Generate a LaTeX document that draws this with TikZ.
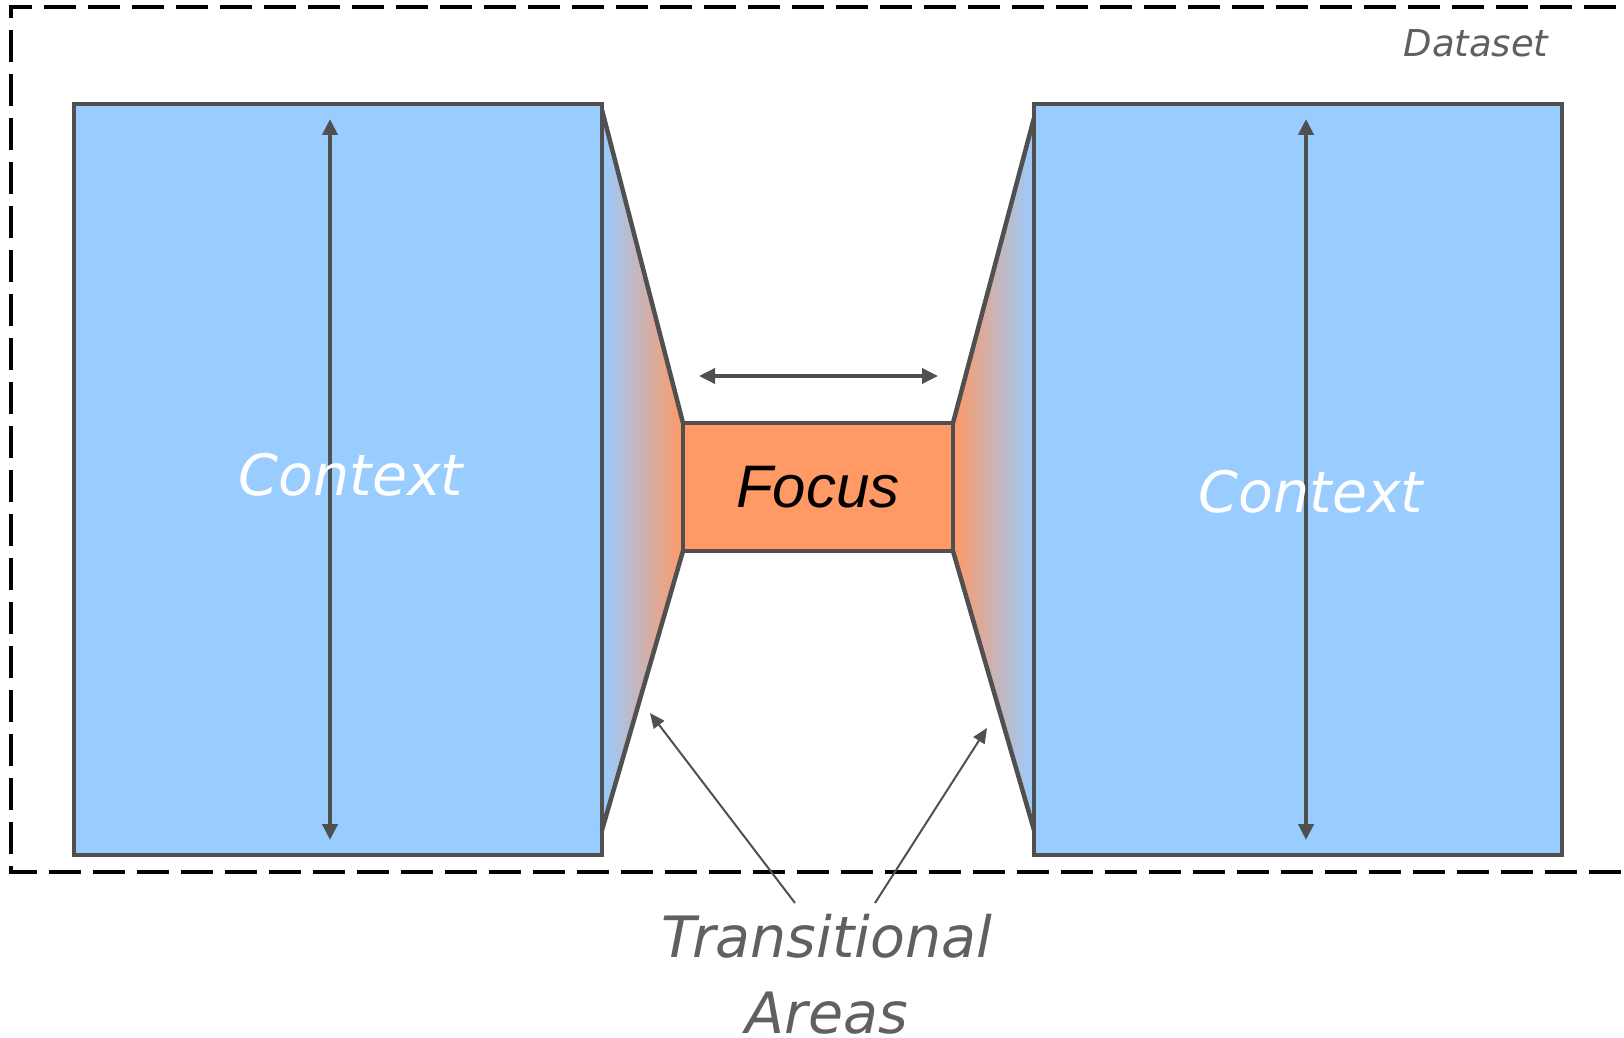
\documentclass[tikz,border=0pt]{standalone}
\usepackage{fontspec}
\setmainfont{DejaVu Sans}
\newfontfamily\focusfont{Liberation Sans}
\usetikzlibrary{arrows.meta}
\definecolor{ctxblue}{HTML}{99CCFF}
\definecolor{focusorange}{HTML}{FF9966}
\definecolor{edge}{HTML}{505050}
\definecolor{labelgrey}{HTML}{606060}

\begin{document}
\begin{tikzpicture}[x=1pt,y=-1pt,
  box/.style={draw=edge, line width=4.5pt},
  ctxbox/.style={box, fill=ctxblue, inner sep=0pt, outer sep=0pt, anchor=north west},
  focusbox/.style={box, fill=focusorange, inner sep=0pt, outer sep=0pt,
    minimum width=270pt, minimum height=128pt,
    font=\focusfont\itshape\fontsize{60}{72}\selectfont},
  slant/.style={draw=edge, line width=4.5pt, line join=round},
  dimarrow/.style={draw=edge, line width=4pt, {Triangle[width=15pt,length=16pt]}-{Triangle[width=15pt,length=16pt]}},
  pointer/.style={draw=edge, line width=2pt, -{Triangle[width=13pt,length=15pt]}},
  ctxlabel/.style={anchor=base, text=white, inner sep=0pt, font=\itshape\fontsize{57}{68}\selectfont},
  region/.style={draw=black, line width=3.5pt, dash pattern=on 32pt off 12pt},
]
\clip (0,0) rectangle (1624,1038);
\fill[white] (0,0) rectangle (1624,1038);

% dataset frame, running past the right edge
\draw[region] (1660,7) -- (11,7) -- (11,872) -- (1660,872);
\node[anchor=base, text=labelgrey, inner sep=0pt, font=\itshape\fontsize{37}{44}\selectfont] (dataset) at (1476,57) {Dataset};

% context blocks and focus block
\node[ctxbox, minimum width=528pt, minimum height=751pt] (ctxL) at (74,104) {};
\node[ctxbox, minimum width=528pt, minimum height=751pt] (ctxR) at (1034,104) {};
\node[focusbox] (focus) at (818,487) {Focus};

% transitional areas with colour gradients
\fill[left color=ctxblue, right color=focusorange]
  ([yshift=-6pt]ctxL.north east) -- (focus.north west) -- (focus.south west)
  -- ([yshift=25pt]ctxL.south east) -- cycle;
\fill[left color=focusorange, right color=ctxblue]
  ([yshift=-14pt]ctxR.north west) -- (focus.north east) -- (focus.south east)
  -- ([yshift=25pt]ctxR.south west) -- cycle;

% redraw block outlines over the gradients
\draw[box] (ctxL.north west) rectangle (ctxL.south east);
\draw[box] (ctxR.north west) rectangle (ctxR.south east);
\draw[box] (focus.north west) rectangle (focus.south east);

\draw[slant] ([yshift=-6pt]ctxL.north east) -- (focus.north west);
\draw[slant] (focus.south west) -- ([yshift=25pt]ctxL.south east);
\draw[slant] ([yshift=-14pt]ctxR.north west) -- (focus.north east);
\draw[slant] (focus.south east) -- ([yshift=25pt]ctxR.south west);

% extent arrows
\coordinate (ltop) at (330,119);
\coordinate (lbot) at (330,840);
\coordinate (rtop) at (1306,119);
\coordinate (rbot) at (1306,840);
\coordinate (fleft) at (699,376);
\coordinate (fright) at (938,376);
\draw[dimarrow] (ltop) -- (lbot);
\draw[dimarrow] (rtop) -- (rbot);
\draw[dimarrow, line width=3.5pt] (fleft) -- (fright);

\node[ctxlabel] (ctxLtext) at (351,495) {Context};
\node[ctxlabel] (ctxRtext) at (1311,512) {Context};

% transitional areas label and pointers
\node[anchor=north, align=center, text=labelgrey, inner sep=0pt,
  font=\itshape\fontsize{57}{76}\selectfont] (trans) at (827,914) {Transitional\\Areas};
\coordinate (pl) at (795,903);
\coordinate (pr) at (875,903);
\coordinate (tipl) at (650,713);
\coordinate (tipr) at (987,728);
\draw[pointer] (pl) -- (tipl);
\draw[pointer] (pr) -- (tipr);
\end{tikzpicture}
\end{document}
